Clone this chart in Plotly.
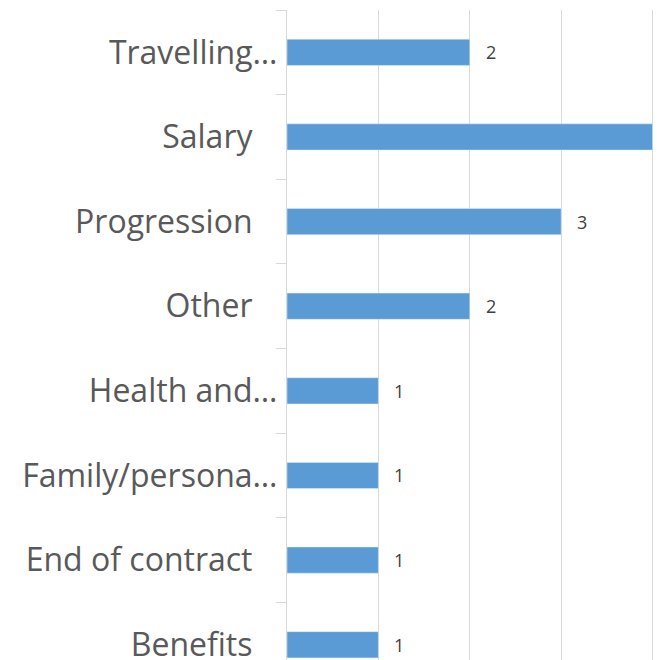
import plotly.graph_objects as go

# categories bottom -> top, as in the source chart
categories = ["Benefits", "End of contract", "Family/persona…", "Health and…",
              "Other", "Progression", "Salary", "Travelling…"]
counts = [1, 1, 1, 1, 2, 3, 4, 2]

NB = "\u00a0"
# labels that were not truncated carry some trailing space in the original
tick_text = [c if c.endswith("…") else c + NB * 3 for c in categories]

fig = go.Figure(go.Bar(
    x=counts, y=categories, orientation="h",
    marker_color="#5b9bd5", width=0.31,
))

for c, v in zip(categories, counts):
    fig.add_annotation(x=v, y=c, text=str(v), showarrow=False,
                       xanchor="left", xshift=14,
                       font=dict(size=18, color="#404040", family="Open Sans"))

# page body has an 8px margin, so the figure is 8px smaller than the window
fig.update_layout(
    width=661, height=652,
    margin=dict(l=279, r=0, t=2, b=0),
    plot_bgcolor="white", paper_bgcolor="white",
    showlegend=False,
    font=dict(family="Open Sans", color="#595959"),
    xaxis=dict(range=[0, 4.18], showticklabels=False, ticks="",
               showgrid=True, gridcolor="#d9d9d9", gridwidth=1.3,
               zeroline=False, dtick=1, automargin=False),
    yaxis=dict(range=[-0.18, 7.5], type="category", automargin=False,
               tickmode="array", tickvals=categories, ticktext=tick_text,
               ticks="outside", tickson="boundaries", ticklen=10,
               tickcolor="#d9d9d9", tickwidth=1.3, ticklabelstandoff=2,
               showline=True, linecolor="#d9d9d9", linewidth=1.3,
               showgrid=False, tickfont=dict(size=32, color="#595959")),
)

fig.write_html("out.html")
